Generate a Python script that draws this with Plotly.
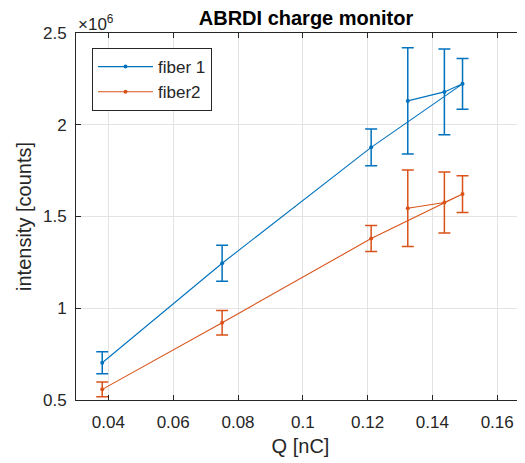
import plotly.graph_objects as go

# Data (order as plotted in the original)
q_nC = [0.0381, 0.0751, 0.1211, 0.1493, 0.1437, 0.1324]
fiber1 = [0.703e6, 1.245e6, 1.877e6, 2.223e6, 2.179e6, 2.130e6]
fiber1_err = [0.060e6, 0.098e6, 0.100e6, 0.138e6, 0.234e6, 0.290e6]
fiber2 = [0.558e6, 0.921e6, 1.380e6, 1.622e6, 1.576e6, 1.545e6]
fiber2_err = [0.040e6, 0.067e6, 0.071e6, 0.100e6, 0.166e6, 0.208e6]

x_ticks = [0.04, 0.06, 0.08, 0.1, 0.12, 0.14, 0.16]
x_tick_labels = ["0.04", "0.06", "0.08", "0.1", "0.12", "0.14", "0.16"]
y_ticks = [0.5e6, 1.0e6, 1.5e6, 2.0e6, 2.5e6]
y_tick_labels = ["0.5", "1", "1.5", "2", "2.5"]

BLUE = "#0072BD"
ORANGE = "#D95319"
AXC = "#262626"
FONT = "Liberation Sans, Arial, sans-serif"

W, H = 517, 455  # page has an 8px body margin

fig = go.Figure()
for name, y, err, col in [("fiber 1", fiber1, fiber1_err, BLUE),
                          ("fiber2", fiber2, fiber2_err, ORANGE)]:
    fig.add_trace(go.Scatter(
        x=q_nC, y=y, name=name, mode="lines+markers",
        line=dict(color=col, width=1.1),
        marker=dict(color=col, size=4),
        error_y=dict(type="data", array=err, visible=True,
                     color=col, thickness=1.5, width=6),
    ))

fig.update_layout(
    width=W, height=H,
    margin=dict(l=68, r=0, t=25, b=63, pad=0),
    paper_bgcolor="white", plot_bgcolor="white",
    font=dict(family=FONT, size=17, color=AXC),
    showlegend=True,
    title=dict(text="<b>ABRDI charge monitor</b>", x=298 / W, xanchor="center",
               y=1 - 3 / H, yanchor="top", pad=dict(t=0, b=0),
               font=dict(size=20, color="black")),
    legend=dict(x=0.0356, y=0.959, xanchor="left", yanchor="top",
                bgcolor="white", bordercolor=AXC, borderwidth=1,
                font=dict(size=17, color=AXC), itemwidth=55,
                tracegroupgap=0),
    xaxis=dict(range=[0.03, 0.16858], tickvals=x_ticks, ticktext=x_tick_labels,
               showgrid=True, gridcolor="#e3e3e3", gridwidth=1,
               showline=True, linecolor=AXC, linewidth=1, mirror="ticks",
               ticks="inside", ticklen=5, tickcolor=AXC,
               zeroline=False, tickfont=dict(size=17), ticklabelstandoff=7,
               title=dict(text="Q [nC]", font=dict(size=20), standoff=7)),
    yaxis=dict(range=[0.5e6, 2.5e6], tickvals=y_ticks, ticktext=y_tick_labels,
               showgrid=True, gridcolor="#e3e3e3", gridwidth=1,
               showline=True, linecolor=AXC, linewidth=1, mirror=False,
               ticks="inside", ticklen=5, tickcolor=AXC,
               zeroline=False, tickfont=dict(size=17), ticklabelstandoff=5,
               title=dict(text="intensity [counts]", font=dict(size=20), standoff=5)),
)

fig.add_annotation(text="×10<sup>6</sup>", xref="paper", yref="paper",
                   x=0.0, y=1.0, xanchor="left", yanchor="bottom",
                   showarrow=False, font=dict(size=17, color=AXC), yshift=-3)

fig.write_html("out.html")
